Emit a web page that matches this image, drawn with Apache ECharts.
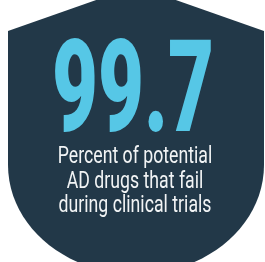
<!DOCTYPE html>
<html>
<head>
<meta charset="utf-8">
<script src="https://cdn.jsdelivr.net/npm/echarts@6/dist/echarts.min.js"></script>
<style>
  html, body { margin: 0; padding: 0; background: #fff; }
  #chart { width: 265px; height: 262px; }
</style>
</head>
<body>
<div id="chart"></div>
<script>
// figure shown on the badge
const statValues = [99.7];
const captionLines = ['Percent of potential', 'AD drugs that fail', 'during clinical trials'];

const navy = '#223848';
const sky = '#56c7e6';

// shield outline (background only)
const Shield = echarts.graphic.extendShape({
  shape: { cx: 136, top: -14, shoulder: 31, side: 128, bend: 165, bottom: 274 },
  buildPath(ctx, s) {
    const l = s.cx - s.side, r = s.cx + s.side, k = 0.5523;
    const h = s.bottom - s.bend;
    ctx.moveTo(l, s.shoulder);
    ctx.lineTo(s.cx, s.top);
    ctx.lineTo(r, s.shoulder);
    ctx.lineTo(r, s.bend);
    ctx.bezierCurveTo(r, s.bend + h * k, s.cx + s.side * k, s.bottom, s.cx, s.bottom);
    ctx.bezierCurveTo(s.cx - s.side * k, s.bottom, l, s.bend + h * k, l, s.bend);
    ctx.closePath();
  }
});
echarts.graphic.registerShape('shield', Shield);

const chart = echarts.init(document.getElementById('chart'), null, { renderer: 'canvas' });

const option = {
  animation: false,
  backgroundColor: '#ffffff',
  graphic: [
    {
      type: 'shield',
      style: { fill: navy },
      silent: true
    },
    {
      type: 'text',
      x: 133,
      y: 99,
      scaleX: 0.62,
      style: {
        text: statValues[0].toFixed(1),
        font: '900 128px Roboto',
        fill: sky,
        align: 'center',
        verticalAlign: 'middle'
      }
    },
    {
      type: 'text',
      x: 135,
      y: 182,
      scaleX: 0.77,
      style: {
        text: captionLines.join('\n'),
        font: '23px Roboto',
        lineHeight: 24.5,
        fill: '#f2f4f5',
        align: 'center',
        verticalAlign: 'middle'
      }
    }
  ]
};

chart.setOption(option);
window.addEventListener('resize', () => chart.resize());
</script>
</body>
</html>
